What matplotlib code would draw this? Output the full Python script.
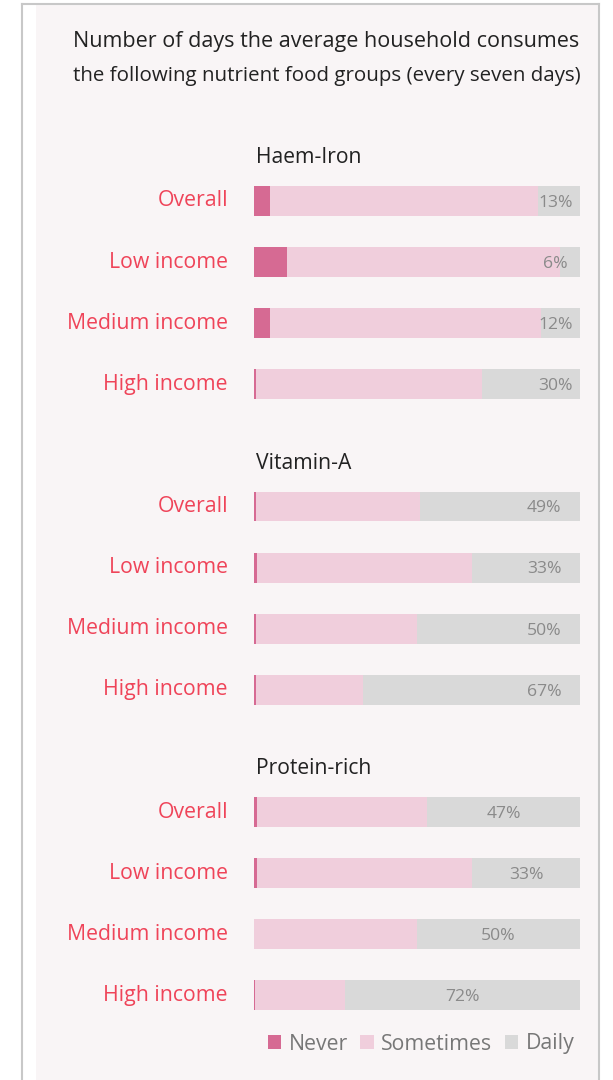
import matplotlib
matplotlib.use('Agg')
import matplotlib.pyplot as plt
from matplotlib.patches import Rectangle, Patch

plt.rcParams['font.family'] = ['Open Sans', 'DejaVu Sans']

# data
groups = ['Haem-Iron', 'Vitamin-A', 'Protein-rich']
categories = ['Overall', 'Low income', 'Medium income', 'High income']
never = [[5, 10, 5, 0.5], [0.7, 1, 0.5, 0.5], [1, 1, 0, 0.3]]
sometimes = [[82, 84, 83, 69.5], [50.3, 66, 49.5, 32.8], [52, 66, 50, 27.7]]
daily = [[13, 6, 12, 30], [49, 33, 50, 67], [47, 33, 50, 72]]
series_names = ['Never', 'Sometimes', 'Daily']

title_lines = ['Number of days the average household consumes',
               'the following nutrient food groups (every seven days)']

# colours
c_never = '#D66A93'
c_some = '#F0CEDC'
c_daily = '#D9D9D9'
c_label = '#EF4459'
c_value = '#8A8A8A'
c_bg = '#F9F5F6'

W, H = 613, 1080
fig = plt.figure(figsize=(W / 100, H / 100), dpi=100)
fig.patch.set_facecolor('white')

# panel + border
fig.patches.append(Rectangle((36 / W, 0), (598 - 36) / W, 1 - 4 / H,
                             transform=fig.transFigure, facecolor=c_bg,
                             edgecolor='none', zorder=-5))
for xs, ys in [([22, 22], [0, H - 4]), ([22, 599], [H - 4, H - 4]), ([599, 599], [0, H - 4])]:
    fig.add_artist(plt.Line2D([x / W for x in xs], [y / H for y in ys], color='#C8C8C8',
                              lw=1.5, transform=fig.transFigure, zorder=-4))

# axes spanning full height, bar area 254..580 px
row_px = 61.1
y0_px = 201
ax = fig.add_axes([254 / W, 0, 326 / W, 1])
ax.set_zorder(2)
ax.set_xlim(0, 100)
ax.set_ylim((H - y0_px) / row_px, -y0_px / row_px)
ax.axis('off')
ax.patch.set_alpha(0)

# where the % labels sit (None = centre of the daily segment)
label_anchor = [92.5, 89, None]

bar_h = 0.49
for g, gname in enumerate(groups):
    base = g * 5
    ax.text(0.6, base - 0.71, gname, ha='left', va='center', fontsize=15.2, color='#222222')
    for i, cat in enumerate(categories):
        y = base + i
        n, s, d = never[g][i], sometimes[g][i], daily[g][i]
        ax.barh(y, n, height=bar_h, left=0, color=c_never, linewidth=0)
        ax.barh(y, s, height=bar_h, left=n, color=c_some, linewidth=0)
        ax.barh(y, d, height=bar_h, left=n + s, color=c_daily, linewidth=0)
        ax.text(-8, y, cat, ha='right', va='center', fontsize=15.3, color=c_label)
        lx = label_anchor[g] if label_anchor[g] is not None else n + s + d / 2
        ax.text(lx, y + 0.03, f'{d:.0f}%', ha='center', va='center', fontsize=12.6, color=c_value)

# title, both lines run to the same right edge in the original
for k, (line, fs) in enumerate(zip(title_lines, [15.5, 14.75])):
    fig.text(73 / W, 1 - (41 + 35 * k) / H, line, ha='left', va='center', fontsize=fs,
             color='#222222')

# legend
handles = [Patch(facecolor=c, edgecolor='none') for c in (c_never, c_some, c_daily)]
leg = fig.legend(handles, series_names, loc='center', bbox_to_anchor=(421 / W, 1 - 1044 / H),
                 ncol=3, frameon=False, fontsize=15.3, handlelength=0.62, handleheight=0.62,
                 handletextpad=0.35, columnspacing=0.6)
for t in leg.get_texts():
    t.set_color('#777777')

fig.savefig('out.png', dpi=100, facecolor=fig.get_facecolor())
